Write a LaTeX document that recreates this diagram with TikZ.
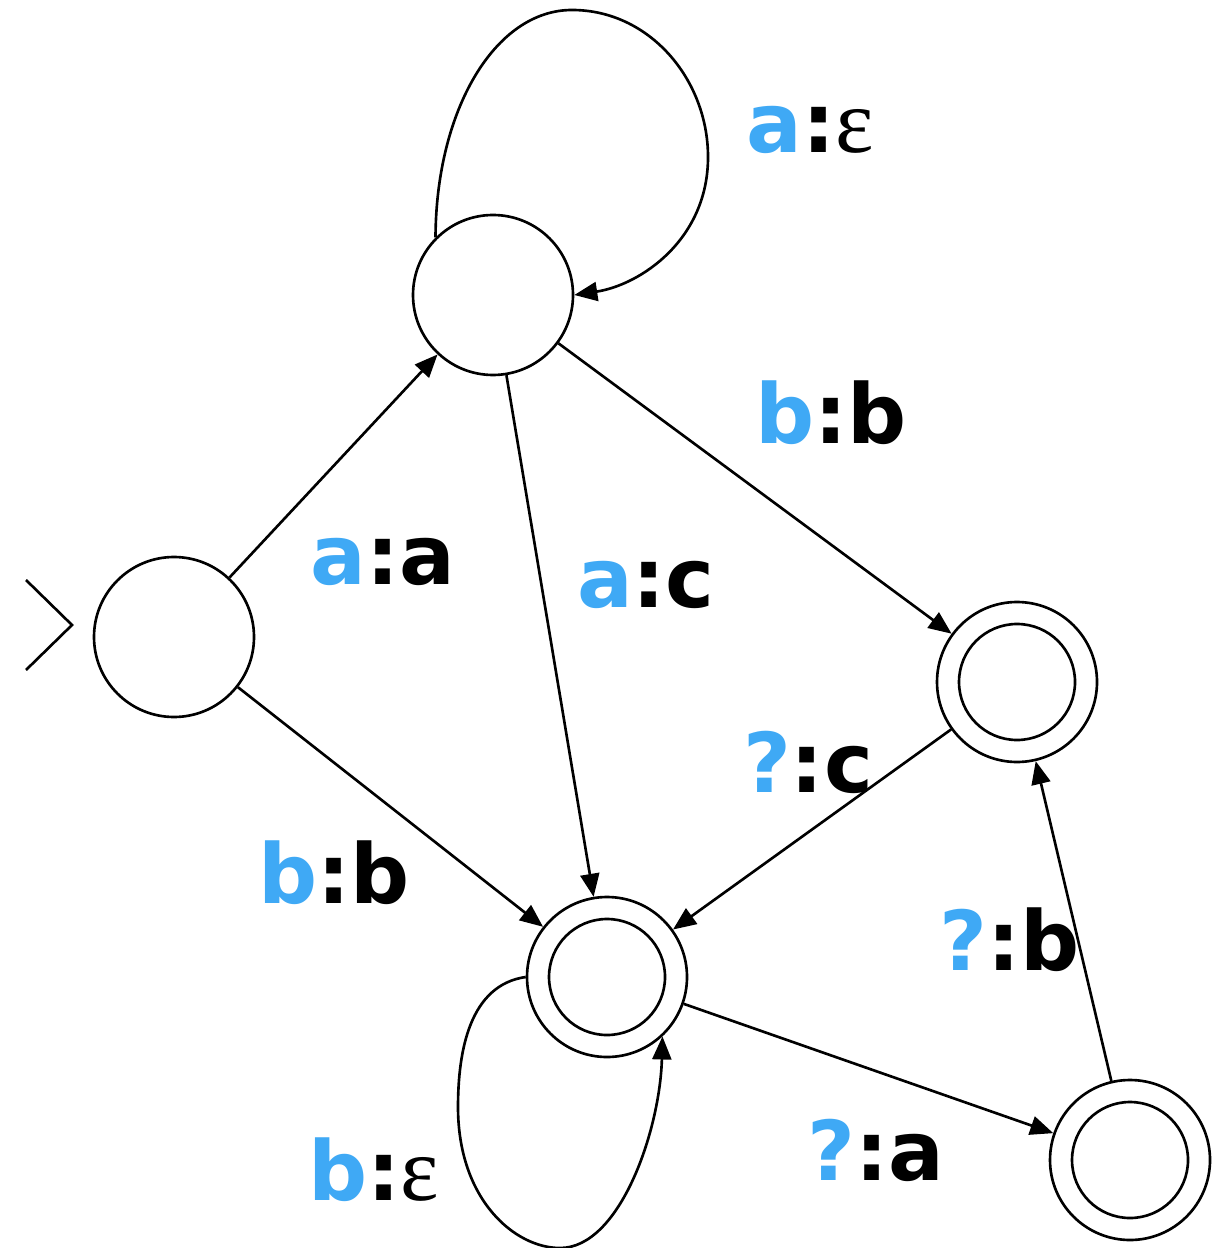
\documentclass[tikz,border=0pt]{standalone}
\usepackage{fontspec}
\setmainfont{DejaVu Sans}
\newfontfamily\epsfont{Liberation Serif}
\usetikzlibrary{arrows.meta}
\definecolor{inblue}{RGB}{63,169,245}
\newcommand{\io}[2]{\textcolor{inblue}{#1}:#2}
\newcommand{\eps}{{\epsfont\mdseries\fontsize{26}{26}\selectfont ε}}

\begin{document}
\begin{tikzpicture}[
      state/.style ={circle,draw,minimum size=1.6cm,inner sep=0pt},
      edge/.style  ={-{Triangle[length=0.23cm,width=0.19cm]}},
      lbl/.style   ={font=\fontsize{23.5}{23.5}\selectfont\bfseries,inner sep=0pt},
      line width=0.75pt]
    \useasboundingbox (0,0) rectangle (12.17,-12.48);
    \node[state] (q0) at (1.74,-6.37) {};
    \node[state] (q1) at (4.93,-2.95) {};
    \node[state] (q2) at (6.07,-9.77) {};
    \node[state] (q3) at (10.17,-6.82) {};
    \node[state] (q4) at (11.30,-11.60) {};
    \foreach \n in {q2,q3,q4}
      \draw (\n) circle[radius=0.58cm];
    % start marker
    \coordinate (tip) at (0.72,-6.25);
    \draw (tip) +(-0.46,0.45) -- (tip) -- +(-0.46,-0.45);
    % transitions
    \draw[edge] (q0) -- (q1);
    \draw[edge] (q0) -- (q2);
    \draw[edge] (q1) -- (q2);
    \draw[edge] (q1) -- (q3);
    \draw[edge] (q3) -- (q2);
    \draw[edge] (q2) -- (q4);
    \draw[edge] (q4) -- (q3);
    \draw[edge] (q1.135) .. controls (4.36,-1.10) and (4.95,-0.10) .. (5.72,-0.10)
      .. controls (6.50,-0.10) and (7.08,-0.80) .. (7.08,-1.57)
      .. controls (7.08,-2.40) and (6.40,-2.85) .. (q1.east);
    \draw[edge] (q2.west) .. controls (4.70,-9.85) and (4.58,-10.50) .. (4.58,-11.07)
      .. controls (4.58,-12.00) and (5.15,-12.48) .. (5.60,-12.48)
      .. controls (6.20,-12.48) and (6.60,-11.30) .. (q2.-47);
    % labels
    \node[lbl] (l01) at (3.83,-5.62) {\io{a}{a}};
    \node[lbl] (l02) at (3.34,-8.73) {\io{b}{b}};
    \node[lbl] (l12) at (6.46,-5.85) {\io{a}{c}};
    \node[lbl] (l13) at (8.31,-4.13) {\io{b}{b}};
    \node[lbl] (l32) at (8.08,-7.62) {\io{?}{c}};
    \node[lbl] (l24) at (8.76,-11.50) {\io{?}{a}};
    \node[lbl] (l43) at (10.10,-9.40) {\io{?}{b}};
    \node[lbl] (l11) at (8.10,-1.30) {\io{a}{\eps}};
    \node[lbl] (l22) at (3.74,-11.70) {\io{b}{\eps}};
\end{tikzpicture}
\end{document}
